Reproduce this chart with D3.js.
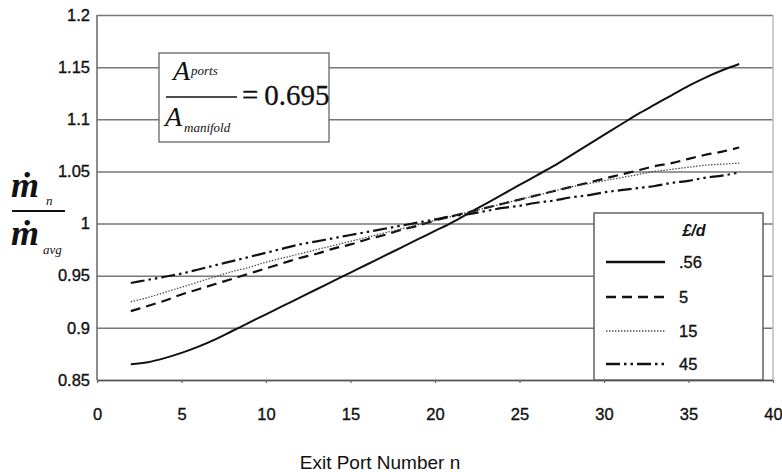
<!DOCTYPE html>
<html>
<head>
<meta charset="utf-8">
<script src="https://cdn.jsdelivr.net/npm/d3@7"></script>
<style>
  html, body { margin: 0; padding: 0; background: #fff; }
  svg { display: block; }
  .tick text { font-family: "Liberation Sans", Arial, sans-serif; font-size: 16.5px; fill: #111; stroke: #111; stroke-width: 0.35px; }
</style>
</head>
<body>
<svg id="chart" width="782" height="472"></svg>
<script>
// Exit port numbers along the manifold
const ports = [2,3,4,5,6,7,8,9,10,11,12,13,14,15,16,17,18,19,20,21,22,23,24,25,26,27,28,29,30,31,32,33,34,35,36,37,38];

// Normalised port mass flow for each length-to-diameter ratio
const flowLd056 = [0.865,0.867,0.871,0.876,0.882,0.889,0.897,0.905,0.913,0.921,0.929,0.937,0.945,0.953,0.961,0.969,0.977,0.985,0.993,1.001,1.010,1.019,1.028,1.037,1.046,1.055,1.065,1.075,1.085,1.095,1.105,1.114,1.123,1.132,1.140,1.147,1.153];
const flowLd5   = [0.916,0.921,0.926,0.932,0.937,0.942,0.947,0.952,0.957,0.962,0.967,0.971,0.976,0.980,0.985,0.989,0.994,0.998,1.003,1.007,1.011,1.015,1.019,1.023,1.027,1.031,1.035,1.039,1.043,1.047,1.051,1.055,1.058,1.062,1.066,1.069,1.073];
const flowLd15  = [0.925,0.929,0.934,0.939,0.944,0.949,0.954,0.958,0.963,0.967,0.971,0.975,0.979,0.983,0.987,0.991,0.995,0.999,1.003,1.007,1.011,1.015,1.019,1.023,1.027,1.031,1.035,1.038,1.041,1.044,1.047,1.050,1.052,1.054,1.056,1.057,1.058];
const flowLd45  = [0.943,0.946,0.949,0.952,0.956,0.960,0.964,0.968,0.972,0.976,0.980,0.983,0.986,0.989,0.992,0.995,0.998,1.001,1.004,1.007,1.009,1.012,1.015,1.017,1.020,1.022,1.025,1.027,1.030,1.032,1.034,1.036,1.039,1.041,1.044,1.046,1.049];

const seriesLabels = [".56", "5", "15", "45"];
const xTicks = [0,5,10,15,20,25,30,35,40];
const yTicks = [0.85,0.9,0.95,1,1.05,1.1,1.15,1.2];
const areaRatio = "0.695";

// Stroke styles per series
const styles = [
  { dash: null,               width: 2.0, color: "#111" },
  { dash: "10,6",             width: 2.2, color: "#111" },
  { dash: "1.4,1.6",          width: 1.3, color: "#444" },
  { dash: "14,4,2.5,4,2.5,4", width: 2.2, color: "#111" }
];

const series = [flowLd056, flowLd5, flowLd15, flowLd45].map((vals, i) => ({
  label: seriesLabels[i],
  points: ports.map((p, j) => ({ n: p, v: vals[j] })),
  style: styles[i]
}));

const svg = d3.select("#chart");
const x = d3.scaleLinear().domain([0, 40]).range([97, 773]);
const y = d3.scaleLinear().domain([0.85, 1.2]).range([380, 15]);

// Horizontal gridlines + y tick labels
const yAxis = svg.append("g")
  .attr("transform", `translate(${x(0)},0)`)
  .call(d3.axisLeft(y).tickValues(yTicks).tickSize(-(x(40) - x(0))).tickPadding(7)
    .tickFormat(d => d3.format("")(+d.toFixed(2))));
yAxis.select(".domain").remove();
yAxis.selectAll(".tick line").attr("stroke", "#777").attr("stroke-width", 1.5);

// Right border of plot area
svg.append("line")
  .attr("x1", x(40)).attr("x2", x(40)).attr("y1", y(1.2)).attr("y2", y(0.85))
  .attr("stroke", "#bbb").attr("stroke-width", 1.5);

// Left axis line
svg.append("line")
  .attr("x1", x(0)).attr("x2", x(0)).attr("y1", y(1.2)).attr("y2", y(0.85))
  .attr("stroke", "#666").attr("stroke-width", 1.5);

// Bottom axis
const xAxis = svg.append("g")
  .attr("transform", `translate(0,${y(0.85)})`)
  .call(d3.axisBottom(x).tickValues(xTicks).tickSize(3).tickPadding(25).tickSizeOuter(0));
xAxis.select(".domain").attr("stroke", "#555").attr("stroke-width", 1.6);
xAxis.selectAll(".tick line").attr("stroke", "#666").attr("stroke-width", 1.2);

// Series lines
const line = d3.line().x(d => x(d.n)).y(d => y(d.v)).curve(d3.curveMonotoneX);
svg.append("g").selectAll("path")
  .data(series)
  .join("path")
  .attr("d", d => line(d.points))
  .attr("fill", "none")
  .attr("stroke", d => d.style.color)
  .attr("stroke-width", d => d.style.width)
  .attr("stroke-dasharray", d => d.style.dash);

// Area ratio annotation box
const serif = '"Liberation Serif", "Times New Roman", serif';
const box = svg.append("g");
box.append("rect")
  .attr("x", 159).attr("y", 53).attr("width", 170).attr("height", 89)
  .attr("fill", "#fff").attr("stroke", "#666").attr("stroke-width", 1.3);
box.append("text").attr("x", 173).attr("y", 80)
  .attr("font-family", serif).attr("font-style", "italic").attr("font-size", 28).attr("fill", "#111")
  .text("A");
box.append("text").attr("x", 191).attr("y", 75)
  .attr("font-family", serif).attr("font-style", "italic").attr("font-size", 13).attr("fill", "#111")
  .text("ports");
box.append("line").attr("x1", 166).attr("x2", 237).attr("y1", 97).attr("y2", 97)
  .attr("stroke", "#111").attr("stroke-width", 1.7);
box.append("text").attr("x", 165).attr("y", 126)
  .attr("font-family", serif).attr("font-style", "italic").attr("font-size", 28).attr("fill", "#111")
  .text("A");
box.append("text").attr("x", 184).attr("y", 132)
  .attr("font-family", serif).attr("font-style", "italic").attr("font-size", 13).attr("fill", "#111")
  .text("manifold");
box.append("text").attr("x", 242).attr("y", 105)
  .attr("font-family", serif).attr("font-size", 29).attr("fill", "#111")
  .attr("stroke", "#111").attr("stroke-width", 0.3)
  .text("=\u2009" + areaRatio);

// Y axis title: m-dot_n over m-dot_avg
const yt = svg.append("g");
yt.append("text").attr("x", 11).attr("y", 197)
  .attr("font-family", serif).attr("font-style", "italic").attr("font-weight", "bold")
  .attr("font-size", 36).attr("fill", "#111").text("\u1E41");
yt.append("text").attr("x", 46).attr("y", 205)
  .attr("font-family", serif).attr("font-style", "italic").attr("font-size", 13).attr("fill", "#111").text("n");
yt.append("line").attr("x1", 12).attr("x2", 65).attr("y1", 211).attr("y2", 211)
  .attr("stroke", "#111").attr("stroke-width", 1.8);
yt.append("text").attr("x", 11).attr("y", 245)
  .attr("font-family", serif).attr("font-style", "italic").attr("font-weight", "bold")
  .attr("font-size", 36).attr("fill", "#111").text("\u1E41");
yt.append("text").attr("x", 43).attr("y", 254)
  .attr("font-family", serif).attr("font-style", "italic").attr("font-size", 13).attr("fill", "#111").text("avg");

// X axis title
svg.append("text")
  .attr("x", 380).attr("y", 469).attr("text-anchor", "middle")
  .attr("font-family", '"Liberation Sans", Arial, sans-serif').attr("font-size", 19)
  .attr("fill", "#111")
  .text("Exit Port Number n");

// Legend
const lg = svg.append("g");
lg.append("rect")
  .attr("x", 594).attr("y", 213).attr("width", 169).attr("height", 167)
  .attr("fill", "#fff").attr("stroke", "#555").attr("stroke-width", 1.4);
lg.append("text")
  .attr("x", 694).attr("y", 236).attr("text-anchor", "middle")
  .attr("font-family", '"Liberation Sans", Arial, sans-serif').attr("font-style", "italic")
  .attr("font-weight", "bold").attr("font-size", 16).attr("fill", "#111")
  .text("£/d");
const rowY = [262, 297, 331, 364];
const rows = lg.selectAll("g.row").data(series).join("g").attr("class", "row")
  .attr("transform", (d, i) => `translate(0,${rowY[i]})`);
rows.append("line")
  .attr("x1", 606).attr("x2", 665).attr("y1", 0).attr("y2", 0)
  .attr("stroke", d => d.style.color)
  .attr("stroke-width", d => d.style.width + 0.4)
  .attr("stroke-dasharray", d => d.style.dash);
rows.append("text")
  .attr("x", 679).attr("y", 0).attr("dy", "0.36em")
  .attr("font-family", '"Liberation Sans", Arial, sans-serif').attr("font-size", 16.5).attr("fill", "#111")
  .attr("stroke", "#111").attr("stroke-width", 0.35)
  .text(d => d.label);
</script>
</body>
</html>
